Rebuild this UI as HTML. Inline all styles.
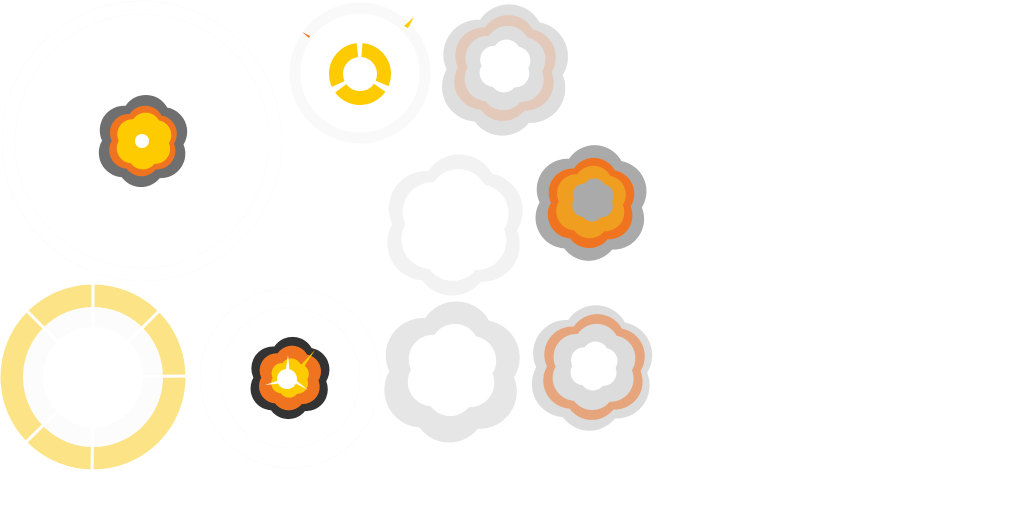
<!DOCTYPE html>
<html><head><meta charset="utf-8"><style>html,body{margin:0;padding:0;background:#fff}svg{display:block}</style></head>
<body>
<svg width="1024" height="512" viewBox="0 0 1024 512" xmlns="http://www.w3.org/2000/svg">
<defs>
<g id="c">
<circle cx="0" cy="0" r="0.8"/>
<circle cx="0.06" cy="-0.46" r="0.52"/>
<circle cx="0.42" cy="-0.2" r="0.52"/>
<circle cx="0.38" cy="0.27" r="0.52"/>
<circle cx="-0.04" cy="0.47" r="0.51"/>
<circle cx="-0.42" cy="0.25" r="0.52"/>
<circle cx="-0.4" cy="-0.23" r="0.52"/>
</g>
</defs>
<!-- faint rings -->
<circle cx="142" cy="141" r="140" fill="none" stroke="#fcfcfc" stroke-width="1"/>
<circle cx="142" cy="141" r="127" fill="none" stroke="#fcfcfc" stroke-width="1"/>
<circle cx="290" cy="378" r="90" fill="none" stroke="#fcfcfc" stroke-width="1"/>
<circle cx="290" cy="378" r="70" fill="none" stroke="#fcfcfc" stroke-width="1"/>

<!-- explosion 1 -->
<use href="#c" transform="translate(143,141) scale(47)" fill="#6f6f6f"/>
<use href="#c" transform="translate(143,141) scale(36)" fill="#f07420"/>
<use href="#c" transform="translate(144,141) scale(29)" fill="#fecb00"/>
<circle cx="142" cy="141" r="7" fill="#fff"/>

<!-- ring 2 -->
<circle cx="360" cy="73" r="65" fill="none" stroke="#f9f9f9" stroke-width="11"/>
<circle cx="360" cy="74" r="24" fill="none" stroke="#fecb00" stroke-width="14" stroke-dasharray="45.3 5" transform="rotate(-90 360 74)" stroke-dashoffset="-2"/>
<path d="M302 32 L310 36 L309 38 Z" fill="#f07420"/>
<path d="M414 17 L408 28 L404 26 Z" fill="#fecb00"/>

<!-- cloud 3 -->
<use href="#c" transform="translate(505,70) scale(67)" fill="#dedede"/>
<use href="#c" transform="translate(505,68) scale(54)" fill="#e3c9b9"/>
<use href="#c" transform="translate(505,68) scale(43)" fill="#dedede"/>
<use href="#c" transform="translate(505,66) scale(27)" fill="#fff"/>

<!-- cloud 4 -->
<use href="#c" transform="translate(455,225) scale(72)" fill="#f2f2f2"/>
<use href="#c" transform="translate(455,225) scale(57)" fill="#fff"/>

<!-- cloud 5 -->
<use href="#c" transform="translate(591,203) scale(59)" fill="#aaaaaa"/>
<use href="#c" transform="translate(591,203) scale(46)" fill="#f07420"/>
<use href="#c" transform="translate(591,202) scale(37)" fill="#f09e20"/>
<use href="#c" transform="translate(593,200) scale(22)" fill="#aaaaaa"/>

<!-- yellow ring 6 -->
<circle cx="93" cy="377" r="81" fill="none" stroke="#fce385" stroke-width="23"/>
<circle cx="93" cy="377" r="60" fill="none" stroke="#fcfcfc" stroke-width="20"/>
<g stroke="#fff" stroke-width="3">
<line x1="93" y1="377" x2="93" y2="278"/>
<line x1="93" y1="377" x2="26" y2="310"/>
<line x1="93" y1="377" x2="160" y2="310"/>
<line x1="93" y1="377" x2="190" y2="376"/>
<line x1="93" y1="377" x2="26" y2="442"/>
<line x1="93" y1="377" x2="92" y2="475"/>
</g>

<!-- explosion 7 -->
<use href="#c" transform="translate(290,378) scale(42)" fill="#333333"/>
<use href="#c" transform="translate(290,378) scale(33)" fill="#f07420"/>
<use href="#c" transform="translate(290,378) scale(20)" fill="#fecb00"/>
<circle cx="287" cy="379" r="10" fill="#fff"/>
<g fill="#fff">
<path d="M285 375 L288 355 L290 375 Z"/>
<path d="M283 379 L265 385 L284 383 Z"/>
<path d="M291 381 L308 390 L292 377 Z"/>
</g>
<path d="M296 370 L315 350 L300 373 Z" fill="#fecb00"/>

<!-- cloud 8 -->
<use href="#c" transform="translate(452,372) scale(72)" fill="#e6e6e6"/>
<use href="#c" transform="translate(452,370) scale(47)" fill="#fff"/>

<!-- cloud 9 -->
<use href="#c" transform="translate(592,368) scale(64)" fill="#dcdcdc"/>
<use href="#c" transform="translate(594,367) scale(54)" fill="#e6a57c"/>
<use href="#c" transform="translate(594,367) scale(44)" fill="#dcdcdc"/>
<use href="#c" transform="translate(594,366) scale(25)" fill="#fff"/>
</svg>
</body></html>
